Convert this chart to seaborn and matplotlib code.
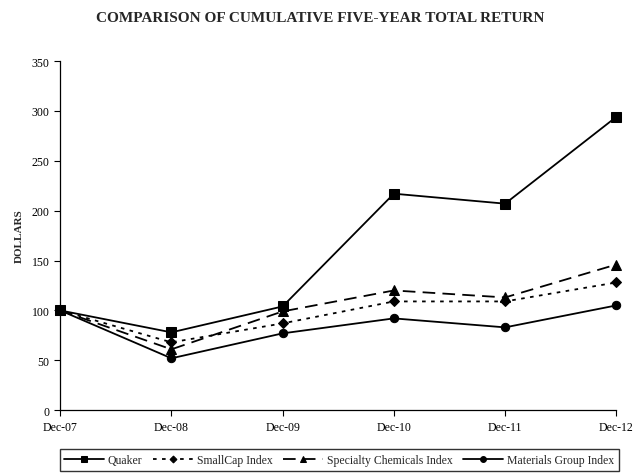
import pandas as pd
import matplotlib.pyplot as plt
import seaborn as sns

# data
periods = ['Dec-07', 'Dec-08', 'Dec-09', 'Dec-10', 'Dec-11', 'Dec-12']
quaker = [100, 78, 104, 217, 207, 294]
smallcap = [100, 68, 87, 109, 109, 128]
specialty = [100, 61, 99, 120, 113, 146]
materials = [100, 52, 77, 92, 83, 105]

series_names = ['Quaker', 'SmallCap Index', 'Specialty Chemicals Index', 'Materials Group Index']

df = pd.DataFrame({'period': periods * 4,
                   'x': list(range(len(periods))) * 4,
                   'value': quaker + smallcap + specialty + materials,
                   'series': sum([[n] * len(periods) for n in series_names], [])})

sns.set_style('white')
plt.rcParams['font.family'] = ['Liberation Serif', 'DejaVu Serif']

fig = plt.figure(figsize=(6.4, 4.77), dpi=100)
ax = fig.add_axes([0.094, 0.138, 0.869, 0.732])

styles = {
    'Quaker': dict(marker='s', markersize=7, dashes=(None, None)),
    'SmallCap Index': dict(marker='D', markersize=5, dashes=(2, 3)),
    'Specialty Chemicals Index': dict(marker='^', markersize=7, dashes=(7, 4)),
    'Materials Group Index': dict(marker='o', markersize=6, dashes=(None, None)),
}

for name in series_names:
    st = styles[name]
    sub = df[df['series'] == name]
    kw = {}
    if st['dashes'][0] is not None:
        kw['dashes'] = st['dashes']
    sns.lineplot(data=sub, x='x', y='value', ax=ax, color='black', linewidth=1.3,
                 marker=st['marker'], markersize=st['markersize'],
                 markeredgecolor='black', label=name, clip_on=False, **kw)

ax.set_xlim(0, 5)
ax.set_ylim(0, 350)
ax.set_xticks(range(len(periods)))
ax.set_xticklabels(periods)
ax.set_yticks(range(0, 351, 50))
ax.tick_params(axis='both', labelsize=8.5, direction='out', length=4, width=0.8,
               bottom=True, left=True, colors='black')
for s in ['top', 'right']:
    ax.spines[s].set_visible(False)
for s in ['left', 'bottom']:
    ax.spines[s].set_color('black')
    ax.spines[s].set_linewidth(0.9)

ax.set_xlabel('')
ax.set_ylabel('DOLLARS', fontsize=8, fontweight='bold', labelpad=6)

fig.suptitle('COMPARISON OF CUMULATIVE FIVE-YEAR TOTAL RETURN', fontsize=11,
             fontweight='bold', y=0.975, x=0.5)

ax.legend_.remove()
handles, labels = ax.get_legend_handles_labels()
leg = fig.legend(handles, labels, loc='center', bbox_to_anchor=(0.53, 0.034), ncol=4,
                 fontsize=8.5, frameon=True, fancybox=False, edgecolor='black',
                 handlelength=3.4, handletextpad=0.3, columnspacing=0.9,
                 borderpad=0.4, markerscale=0.7)
leg.get_frame().set_linewidth(1.0)

plt.savefig('out.png', dpi=100)
plt.close()
